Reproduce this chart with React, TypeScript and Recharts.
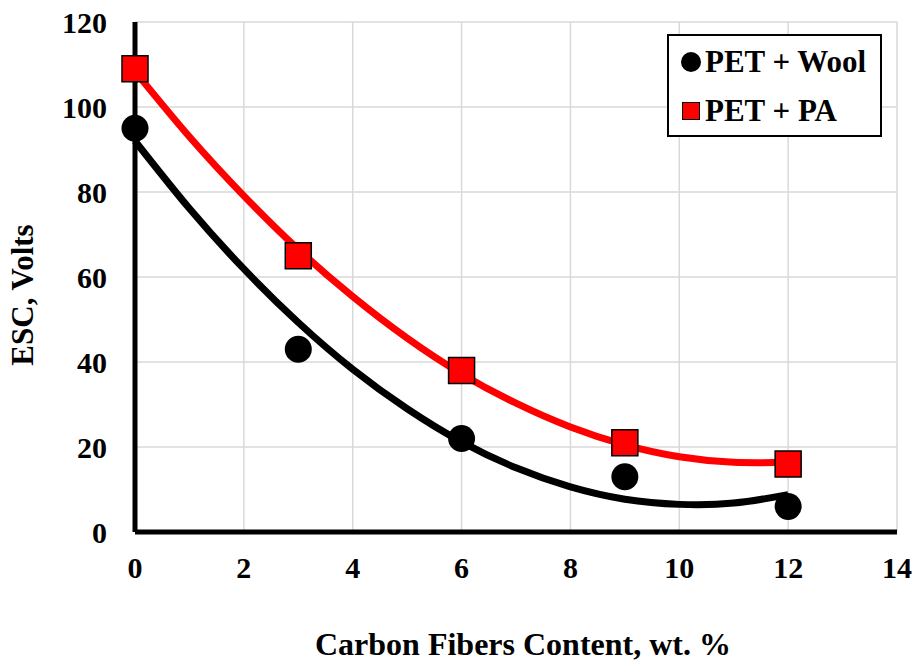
import React from 'react'
import {
  ComposedChart,
  Line,
  Scatter,
  XAxis,
  YAxis,
  CartesianGrid,
  ReferenceLine,
} from 'recharts'

// measured points
const fiberContent = [0, 3, 6, 9, 12]
const woolEsc = [95, 43, 22, 13, 6]
const paEsc = [109, 65, 38, 21, 16]

// trend lines at each whole wt. %
const trendX = [0, 1, 2, 3, 4, 5, 6, 7, 8, 9, 10, 11, 12]
const woolTrend = [92, 76.1, 61.9, 49.3, 38.3, 29, 21.2, 15.1, 10.6, 7.7, 6.5, 6.8, 8.8]
const paTrend = [108.4, 93, 79.1, 66.5, 55.4, 45.6, 37.2, 30.3, 24.7, 20.5, 17.7, 16.4, 16.4]

const xTicks = [0, 2, 4, 6, 8, 10, 12, 14]
const yTicks = [0, 20, 40, 60, 80, 100, 120]

const seriesNames = ['PET + Wool', 'PET + PA']

const woolPoints = fiberContent.map((x, i) => ({ x, y: woolEsc[i] }))
const paPoints = fiberContent.map((x, i) => ({ x, y: paEsc[i] }))
const woolLine = trendX.map((x, i) => ({ x, y: woolTrend[i] }))
const paLine = trendX.map((x, i) => ({ x, y: paTrend[i] }))

const FONT = 'Liberation Serif, Times New Roman, Times, serif'

const tickStyle = { fontFamily: FONT, fontWeight: 700, fontSize: 30, fill: '#000' }

const CircleDot = (props: any) => {
  const { cx, cy } = props
  return <circle cx={cx} cy={cy} r={13.5} fill="#000" />
}

const SquareDot = (props: any) => {
  const { cx, cy } = props
  return (
    <rect x={cx - 13} y={cy - 13} width={26} height={26} fill="#ff0000" stroke="#000" strokeWidth={1.5} />
  )
}

const YTitle = () => (
  <text
    x={22}
    y={295}
    transform="rotate(-90 22 295)"
    textAnchor="middle"
    dominantBaseline="central"
    fontFamily={FONT}
    fontWeight={700}
    fontSize={31}
  >
    ESC, Volts
  </text>
)

const XTitle = () => (
  <text
    x={523}
    y={644}
    textAnchor="middle"
    dominantBaseline="central"
    fontFamily={FONT}
    fontWeight={700}
    fontSize={32}
  >
    Carbon Fibers Content, wt. %
  </text>
)

export default function App() {
  return (
    <div style={{ position: 'absolute', left: 0, top: 0, width: 917, height: 666, background: '#fff', fontFamily: FONT }}>
      <ComposedChart width={917} height={666} margin={{ top: 22, right: 20, bottom: 74, left: 35 }}>
        <CartesianGrid stroke="#d9d9d9" strokeWidth={1.5} />
        <XAxis
          dataKey="x"
          type="number"
          domain={[0, 14]}
          ticks={xTicks}
          height={60}
          tickSize={0}
          tickMargin={25}
          tick={tickStyle}
          axisLine={{ stroke: '#000', strokeWidth: 5 }}
          tickLine={false}
          interval={0}
        />
        <XAxis
          xAxisId="top"
          orientation="top"
          type="number"
          domain={[0, 14]}
          height={0}
          tick={false}
          tickLine={false}
          axisLine={{ stroke: '#000', strokeWidth: 5 }}
        />
        <YAxis
          type="number"
          domain={[0, 120]}
          ticks={yTicks}
          width={100}
          tickSize={0}
          tickMargin={28}
          tick={tickStyle}
          axisLine={{ stroke: '#000', strokeWidth: 5 }}
          tickLine={false}
          interval={0}
        />
        <YAxis
          yAxisId="right"
          orientation="right"
          type="number"
          domain={[0, 120]}
          width={0}
          tick={false}
          tickLine={false}
          axisLine={{ stroke: '#000', strokeWidth: 5 }}
        />
        <ReferenceLine x={0} stroke="#b0b0b0" strokeWidth={2} />
        <ReferenceLine y={0} stroke="#b0b0b0" strokeWidth={2} />
        <Line
          data={woolLine}
          dataKey="y"
          type="natural"
          stroke="#000"
          strokeWidth={7}
          dot={false}
          isAnimationActive={false}
        />
        <Line
          data={paLine}
          dataKey="y"
          type="natural"
          stroke="#ff0000"
          strokeWidth={7}
          dot={false}
          isAnimationActive={false}
        />
        <Scatter data={woolPoints} dataKey="y" shape={CircleDot} isAnimationActive={false} />
        <Scatter data={paPoints} dataKey="y" shape={SquareDot} isAnimationActive={false} />
        <YTitle />
        <XTitle />
      </ComposedChart>
      <div
        style={{
          position: 'absolute',
          left: 667,
          top: 34,
          width: 211,
          height: 99,
          border: '2.5px solid #000',
          background: '#fff',
          fontWeight: 700,
          fontSize: 31,
          lineHeight: '36px',
          color: '#000',
        }}
      >
        <div style={{ position: 'absolute', left: 12, top: 8, display: 'flex', alignItems: 'center', whiteSpace: 'nowrap' }}>
          <span style={{ width: 20, height: 20, borderRadius: '50%', background: '#000', display: 'inline-block', marginRight: 4 }} />
          {seriesNames[0]}
        </div>
        <div style={{ position: 'absolute', left: 13, top: 57, display: 'flex', alignItems: 'center', whiteSpace: 'nowrap' }}>
          <span
            style={{
              width: 16,
              height: 16,
              background: '#ff0000',
              border: '1.5px solid #000',
              display: 'inline-block',
              marginRight: 5,
            }}
          />
          {seriesNames[1]}
        </div>
      </div>
    </div>
  )
}
